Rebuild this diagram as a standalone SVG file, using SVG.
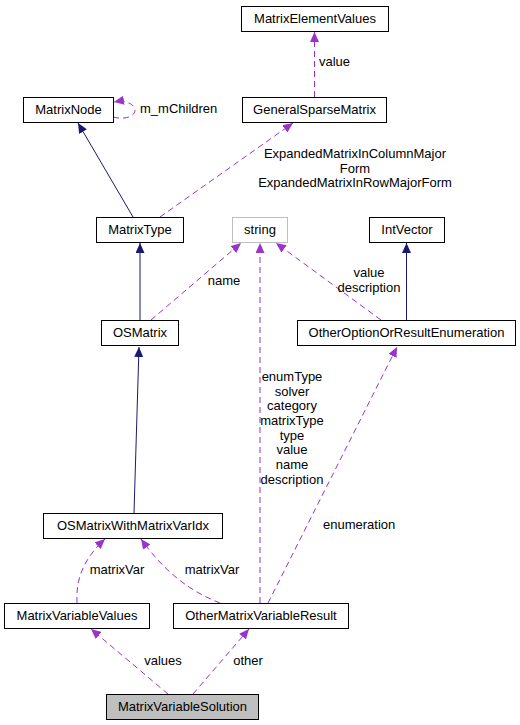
<svg xmlns="http://www.w3.org/2000/svg" width="520" height="725" viewBox="0 0 520 725">
<style>
.node rect{fill:#ffffff;stroke:#000000;stroke-width:1}
.node text,.lbl{font-family:"Liberation Sans",Arial,sans-serif;font-size:13px;fill:#000000}
.node text{text-anchor:middle}
.inh{fill:none;stroke:#191970;stroke-width:1}
.use{fill:none;stroke:#9a32cd;stroke-width:1;stroke-dasharray:6,4}
.mid{text-anchor:middle}
</style>
<defs>
<marker id="an" markerUnits="userSpaceOnUse" markerWidth="11" markerHeight="9" refX="10" refY="4.5" orient="auto"><path d="M0,0 L10,4.5 L0,9 z" fill="#191970"/></marker>
<marker id="ap" markerUnits="userSpaceOnUse" markerWidth="11" markerHeight="9" refX="10" refY="4.5" orient="auto"><path d="M0,0 L10,4.5 L0,9 z" fill="#9a32cd"/></marker>
</defs>
<rect width="520" height="725" fill="#ffffff"/>
<g id="edges">
<path class="use" d="M314.5,97 L314.5,32" marker-end="url(#ap)"/>
<path class="use" d="M113,117 C124,120 135,117 135,110 C135,104 125,100 114,102" marker-end="url(#ap)"/>
<path class="inh" d="M133,217 L78,123" marker-end="url(#an)"/>
<path class="use" d="M160,217 L293,123" marker-end="url(#ap)"/>
<path class="inh" d="M140,320 L140,243" marker-end="url(#an)"/>
<path class="use" d="M151,320 L241,243" marker-end="url(#ap)"/>
<path class="use" d="M260,603 L260,243" marker-end="url(#ap)"/>
<path class="use" d="M381,320 L276,243" marker-end="url(#ap)"/>
<path class="inh" d="M406.5,320 L406.5,243" marker-end="url(#an)"/>
<path class="inh" d="M134,513 L139,347" marker-end="url(#an)"/>
<path class="use" d="M268,603 L397,347" marker-end="url(#ap)"/>
<path class="use" d="M77,603 C76,584 80,562 105,539" marker-end="url(#ap)"/>
<path class="use" d="M220,603 C192,592 166,574 141,539" marker-end="url(#ap)"/>
<path class="use" d="M168,694 L91,629" marker-end="url(#ap)"/>
<path class="use" d="M193,694 L249,629" marker-end="url(#ap)"/>
<text class="lbl" x="319" y="66">value</text>
<text class="lbl" x="140" y="113">m_mChildren</text>
<text class="lbl mid" x="355" y="158">ExpandedMatrixInColumnMajor</text>
<text class="lbl mid" x="355" y="172.5">Form</text>
<text class="lbl mid" x="355" y="187">ExpandedMatrixInRowMajorForm</text>
<text class="lbl mid" x="224" y="285">name</text>
<text class="lbl mid" x="369" y="277">value</text>
<text class="lbl mid" x="369" y="291.5">description</text>
<text class="lbl mid" x="292" y="381">enumType</text>
<text class="lbl mid" x="292" y="395.7">solver</text>
<text class="lbl mid" x="292" y="410.3">category</text>
<text class="lbl mid" x="292" y="425">matrixType</text>
<text class="lbl mid" x="292" y="439.7">type</text>
<text class="lbl mid" x="292" y="454.3">value</text>
<text class="lbl mid" x="292" y="469">name</text>
<text class="lbl mid" x="292" y="483.7">description</text>
<text class="lbl" x="323" y="529">enumeration</text>
<text class="lbl mid" x="117" y="574">matrixVar</text>
<text class="lbl mid" x="212" y="574">matrixVar</text>
<text class="lbl mid" x="163" y="665">values</text>
<text class="lbl mid" x="248" y="665">other</text>
</g>
<g id="MatrixElementValues" class="node"><rect x="241.5" y="6.5" width="147" height="25"/><text x="315" y="23">MatrixElementValues</text></g>
<g id="MatrixNode" class="node"><rect x="23.5" y="97.5" width="90" height="25"/><text x="68.5" y="114">MatrixNode</text></g>
<g id="GeneralSparseMatrix" class="node"><rect x="242.5" y="97.5" width="144" height="25"/><text x="314.5" y="114">GeneralSparseMatrix</text></g>
<g id="MatrixType" class="node"><rect x="96.5" y="217.5" width="87" height="25"/><text x="140" y="234">MatrixType</text></g>
<g id="string" class="node"><rect x="232.5" y="217.5" width="55" height="25" style="stroke:#bfbfbf"/><text x="260" y="234">string</text></g>
<g id="IntVector" class="node"><rect x="369.5" y="217.5" width="75" height="25"/><text x="407" y="234">IntVector</text></g>
<g id="OSMatrix" class="node"><rect x="101.5" y="320.5" width="77" height="25"/><text x="140" y="337">OSMatrix</text></g>
<g id="OtherOptionOrResultEnumeration" class="node"><rect x="297.5" y="320.5" width="218" height="25"/><text x="406.5" y="337">OtherOptionOrResultEnumeration</text></g>
<g id="OSMatrixWithMatrixVarIdx" class="node"><rect x="43.5" y="513.5" width="179" height="25"/><text x="133" y="530">OSMatrixWithMatrixVarIdx</text></g>
<g id="MatrixVariableValues" class="node"><rect x="4.5" y="603.5" width="145" height="25"/><text x="77" y="620">MatrixVariableValues</text></g>
<g id="OtherMatrixVariableResult" class="node"><rect x="173.5" y="603.5" width="175" height="25"/><text x="261" y="620">OtherMatrixVariableResult</text></g>
<g id="MatrixVariableSolution" class="node"><rect x="106.5" y="694.5" width="152" height="25" style="fill:#bfbfbf"/><text x="182.5" y="711">MatrixVariableSolution</text></g>
</svg>
